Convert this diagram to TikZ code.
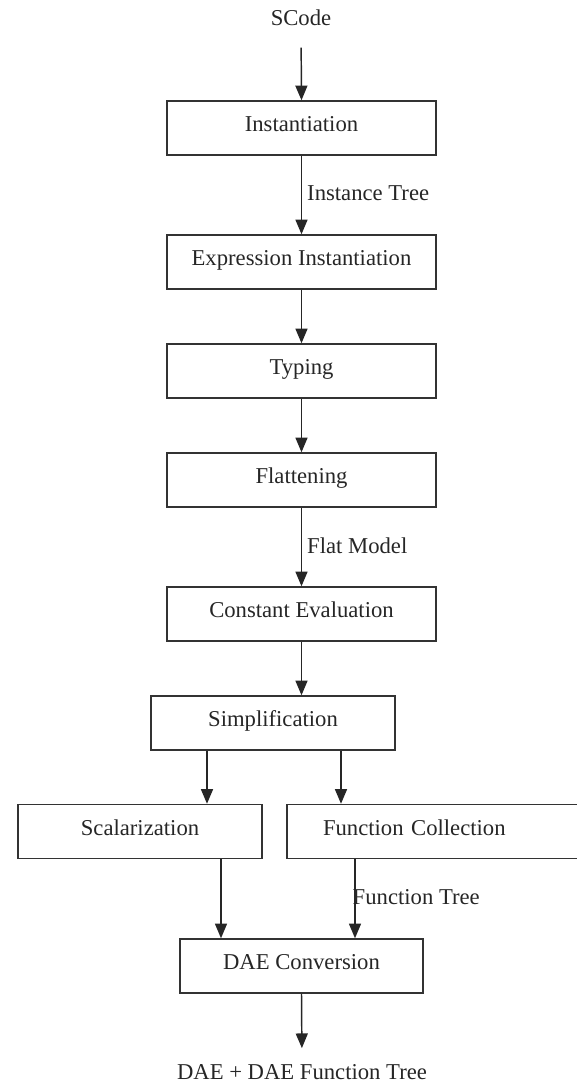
\documentclass[tikz,border=0pt]{standalone}
\usepackage{fontspec}
\setmainfont{Liberation Serif}
\usetikzlibrary{arrows.meta,calc}
\begin{document}
\begin{tikzpicture}[x=0.75pt,y=-0.75pt,
  every node/.style={font=\fontsize{17}{20}\selectfont, text=black!85},
  box/.style={draw=black!80, line width=1.1pt, rectangle, minimum height=40.5pt,
    text height=0.72em, text depth=0.16em, inner sep=0pt},
  arr/.style={draw=black!85, line width=1.1pt, -{Triangle[length=11pt,width=9pt]}},
  lbl/.style={anchor=west, inner sep=0pt}]
\useasboundingbox (0,0) rectangle (576,1083);
\node[inner sep=0pt] (scode) at (301,18) {SCode};
\node[box, minimum width=201.75pt] (inst) at (301.5,128) {Instantiation};
\node[box, minimum width=201.75pt] (expr) at (301.5,262) {Expression Instantiation};
\node[box, minimum width=201.75pt] (typing) at (301.5,371) {Typing};
\node[box, minimum width=201.75pt] (flat) at (301.5,480) {Flattening};
\node[box, minimum width=201.75pt] (const) at (301.5,614) {Constant Evaluation};
\node[box, minimum width=183pt] (simp) at (273,723) {Simplification};
\node[box, minimum width=183pt] (scal) at (140,831.5) {Scalarization};
\node[box, minimum width=225pt, text width=171pt, align=left] (func) at (437,831.5) {Function Collection};
\node[box, minimum width=182.25pt] (dae) at (301.5,966) {DAE Conversion};
\node[inner sep=0pt] (out) at (302,1072) {DAE + DAE Function Tree};

% connector end points on the box edges
\coordinate (s1) at ($(simp.south)+(-66,0)$);
\coordinate (s2) at ($(simp.south)+(68,0)$);
\coordinate (c1) at ($(scal.south)+(81,0)$);
\coordinate (f1) at ($(func.south)+(-82,0)$);

\draw[arr, shorten <=16pt] (scode.south) -- (inst.north);
\draw[arr] (inst) -- node[lbl, pos=0.48, xshift=3.75pt] {Instance Tree} (expr);
\draw[arr] (expr) -- (typing);
\draw[arr] (typing) -- (flat);
\draw[arr] (flat) -- node[lbl, pos=0.48, xshift=3.75pt] {Flat Model} (const);
\draw[arr] (const.south) -- (const.south |- simp.north);
\draw[arr] (s1) -- (s1 |- scal.north);
\draw[arr] (s2) -- (s2 |- func.north);
\draw[arr] (c1) -- (c1 |- dae.north);
\draw[arr] (f1) -- node[lbl, pos=0.48, xshift=-2.25pt] {Function Tree} (f1 |- dae.north);
\draw[arr, shorten >=12pt] (dae.south) -- (out.north);
\end{tikzpicture}
\end{document}
